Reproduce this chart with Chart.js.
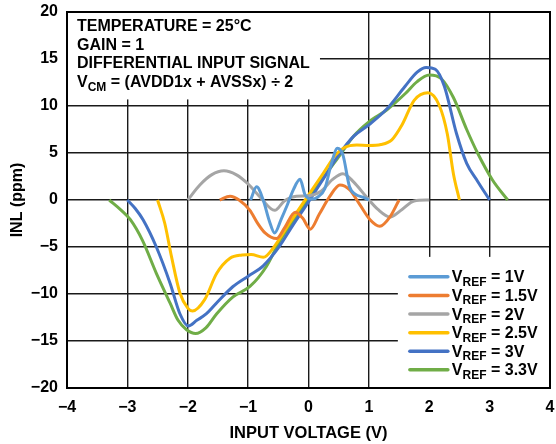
<!DOCTYPE html>
<html><head><meta charset="utf-8">
<script src="https://cdn.jsdelivr.net/npm/chart.js@4"></script>
<style>html,body{margin:0;padding:0;background:#fff}#wrap{width:556px;height:444px;position:relative}</style>
</head><body><div id="wrap"><canvas id="c"></canvas></div>
<script>
// ---- data ----
const xRange = [-4, 4];
const yRange = [-20, 20];
const xStep = 1;
const yStep = 5;

const seriesLabels = ['1V', '1.5V', '2V', '2.5V', '3V', '3.3V'];
const seriesColors = ['#5B9BD5', '#ED7D31', '#A5A5A5', '#FFC000', '#4472C4', '#70AD47'];

const x1V = [-0.96, -0.86, -0.75, -0.65, -0.56, -0.45, -0.35, -0.25, -0.14, -0.06, 0.05, 0.15, 0.27, 0.38, 0.48, 0.57, 0.68, 0.78, 0.9, 1.0];
const y1V = [0, 1.4, 0.0, -2.2, -3.5, -2.0, -0.5, 1.1, 2.2, 0.6, 0.1, 0.3, 1.2, 3.9, 5.5, 4.8, 1.4, 0.6, 0.3, 0];

const x1p5V = [-1.47, -1.3, -1.15, -0.97, -0.85, -0.72, -0.53, -0.4, -0.22, -0.1, 0.03, 0.18, 0.35, 0.52, 0.68, 0.85, 1.02, 1.18, 1.35, 1.5];
const y1p5V = [0, 0.4, 0.0, -1.1, -2.4, -3.5, -4.1, -3.0, -1.3, -1.9, -3.1, -1.5, 0.35, 1.6, 1.1, -0.5, -2.1, -2.8, -1.8, 0];

const x2V = [-2, -1.8, -1.6, -1.4, -1.2, -1.0, -0.8, -0.56, -0.4, -0.2, 0, 0.2, 0.4, 0.57, 0.75, 0.95, 1.15, 1.35, 1.55, 1.75, 2.0];
const y2V = [0, 1.6, 2.7, 3.1, 2.7, 1.7, 0.3, -1.1, -0.1, 0.4, 0.45, 0.9, 2.2, 2.8, 1.9, 0.4, -1.0, -1.8, -1.0, -0.1, 0];

const x2p5V = [-2.5, -2.38, -2.27, -2.13, -2.0, -1.92, -1.72, -1.52, -1.3, -1.1, -0.95, -0.75, -0.55, -0.35, -0.15, 0.05, 0.25, 0.45, 0.6, 0.8, 1.0, 1.2, 1.38, 1.55, 1.75, 1.98, 2.17, 2.3, 2.4, 2.5];
const y2p5V = [0, -2.5, -6.0, -9.9, -11.5, -11.8, -10.6, -7.8, -6.2, -5.85, -5.8, -6.1, -4.8, -2.8, -0.9, 1.0, 2.9, 4.8, 5.6, 5.85, 5.8, 5.9, 6.4, 8.0, 10.6, 11.4, 10.0, 7.0, 2.8, 0];

const x3V = [-3, -2.87, -2.74, -2.52, -2.29, -2.13, -1.99, -1.85, -1.69, -1.5, -1.25, -1.0, -0.75, -0.5, -0.25, 0, 0.25, 0.5, 0.75, 1.0, 1.3, 1.6, 1.8, 1.95, 2.1, 2.25, 2.45, 2.62, 2.8, 3.0];
const y3V = [0, -0.9, -2.1, -5.0, -8.9, -12.1, -13.4, -12.8, -12.1, -10.8, -9.2, -8.1, -7.0, -5.1, -2.6, -0.2, 2.3, 4.8, 6.8, 8.0, 9.7, 12.1, 13.6, 14.1, 13.9, 12.1, 7.1, 3.9, 2.0, 0];

const x3p3V = [-3.3, -3.1, -2.95, -2.75, -2.52, -2.29, -2.16, -2.02, -1.87, -1.7, -1.52, -1.25, -0.97, -0.7, -0.47, -0.25, 0, 0.25, 0.5, 0.75, 1.0, 1.3, 1.6, 1.8, 2.0, 2.2, 2.4, 2.62, 2.8, 3.05, 3.3];
const y3p3V = [0, -1.1, -2.1, -4.3, -7.8, -11.0, -12.8, -13.8, -14.2, -13.6, -12.1, -10.3, -9.2, -7.1, -4.3, -2.2, 0.1, 2.4, 4.6, 6.8, 8.3, 9.6, 11.3, 12.6, 13.3, 12.9, 10.9, 7.5, 5.0, 2.1, 0];

const xTitle = 'INPUT VOLTAGE (V)';
const yTitle = 'INL (ppm)';
const noteLines = ['TEMPERATURE = 25°C', 'GAIN = 1', 'DIFFERENTIAL INPUT SIGNAL'];
const noteVcm = ['V', 'CM', ' = (AVDD1x + AVSSx) ÷ 2'];

// ---- chart ----
const FONT = '"Liberation Sans", Arial, Helvetica, sans-serif';
const seriesX = [x1V, x1p5V, x2V, x2p5V, x3V, x3p3V];
const seriesY = [y1V, y1p5V, y2V, y2p5V, y3V, y3p3V];

const datasets = seriesLabels.map((lab, i) => ({
  label: 'VREF = ' + lab,
  data: seriesX[i].map((x, j) => ({x: x, y: seriesY[i][j]})),
  borderColor: seriesColors[i],
  backgroundColor: seriesColors[i],
  borderWidth: 3,
  pointRadius: 0,
  fill: false,
  cubicInterpolationMode: 'monotone',
  borderCapStyle: 'butt',
  borderJoinStyle: 'round'
}));

const fmt = v => (v < 0 ? '\u2212' + Math.abs(v) : String(v));

function drawRich(ctx, x, y, parts) {
  let cx = x;
  parts.forEach(p => {
    ctx.font = 'bold ' + p.size + 'px ' + FONT;
    ctx.fillText(p.t, cx, y + (p.dy || 0));
    cx += ctx.measureText(p.t).width;
  });
}

const overlay = {
  id: 'overlay',
  beforeDatasetsDraw(chart) {
    const ctx = chart.ctx, a = chart.chartArea;
    const xs = chart.scales.x, ys = chart.scales.y;
    ctx.save();
    ctx.fillStyle = '#fff';
    const bR = xs.getPixelForValue(0.19), bB = ys.getPixelForValue(10.7);
    ctx.fillRect(a.left, a.top, bR - a.left, bB - a.top);
    const lL = xs.getPixelForValue(1.48), lT = ys.getPixelForValue(-6.05);
    ctx.fillRect(lL, lT, a.right - lL, a.bottom - lT);
    ctx.restore();
  },
  afterDatasetsDraw(chart) {
    const ctx = chart.ctx, a = chart.chartArea;
    const xs = chart.scales.x, ys = chart.scales.y;
    ctx.save();
    ctx.fillStyle = '#000';
    ctx.textBaseline = 'alphabetic';
    ctx.textAlign = 'left';
    const tx = a.left + 10;
    const lh = 18.7;
    const by = a.top + 19;
    noteLines.forEach((t, i) => {
      drawRich(ctx, tx, by + i * lh, [{t: t, size: 16}]);
    });
    drawRich(ctx, tx, by + 3 * lh, [{t: noteVcm[0], size: 16}, {t: noteVcm[1], size: 12, dy: 3.5}, {t: noteVcm[2], size: 16}]);

    const lL = xs.getPixelForValue(1.48), lT = ys.getPixelForValue(-6.05);
    const x0 = lL + 12, x1 = lL + 50, tx2 = lL + 54;
    const ey0 = lT + 20, eh = 18.6;
    chart.data.datasets.forEach((ds, i) => {
      const cy = ey0 + i * eh;
      ctx.strokeStyle = ds.borderColor;
      ctx.lineWidth = 3.5;
      ctx.lineCap = 'round';
      ctx.beginPath(); ctx.moveTo(x0, cy); ctx.lineTo(x1, cy); ctx.stroke();
      ctx.fillStyle = '#000';
      drawRich(ctx, tx2, cy + 5.5, [{t: 'V', size: 16}, {t: 'REF', size: 12, dy: 3.5}, {t: ' = ' + seriesLabels[i], size: 16}]);
    });
    ctx.restore();
  },
  afterDraw(chart) {
    const ctx = chart.ctx, a = chart.chartArea;
    ctx.save();
    ctx.strokeStyle = '#000';
    ctx.lineWidth = 2;
    ctx.strokeRect(a.left, a.top, a.right - a.left, a.bottom - a.top);
    ctx.restore();
  }
};

const noPad = s => { s.paddingLeft = 0; s.paddingRight = 0; s.paddingTop = 0; s.paddingBottom = 0; };

new Chart(document.getElementById('c'), {
  type: 'line',
  data: {datasets: datasets},
  plugins: [overlay],
  options: {
    responsive: true,
    maintainAspectRatio: false,
    animation: false,
    layout: {padding: {top: 12, right: 6, left: 0, bottom: 0}},
    plugins: {legend: {display: false}, tooltip: {enabled: false}},
    scales: {
      x: {
        type: 'linear', min: xRange[0], max: xRange[1],
        afterFit: s => { s.height = 56; noPad(s); },
        ticks: {stepSize: xStep, color: '#000', padding: 10, font: {family: FONT, size: 16, weight: 'bold'}, callback: fmt, maxRotation: 0},
        grid: {color: '#1a1a1a', lineWidth: 1.4, drawTicks: false},
        border: {display: false},
        title: {display: true, text: xTitle, color: '#000', font: {family: FONT, size: 16.5, weight: 'bold'}, padding: {top: 0, bottom: 1}}
      },
      y: {
        type: 'linear', min: yRange[0], max: yRange[1],
        afterFit: s => { s.width = 67; noPad(s); },
        ticks: {stepSize: yStep, color: '#000', padding: 9, font: {family: FONT, size: 16, weight: 'bold'}, callback: fmt},
        grid: {color: '#1a1a1a', lineWidth: 1.4, drawTicks: false},
        border: {display: false},
        title: {display: true, text: yTitle, color: '#000', font: {family: FONT, size: 16, weight: 'bold'}, padding: {top: 8, bottom: 0}}
      }
    }
  }
});
</script>
</body></html>
